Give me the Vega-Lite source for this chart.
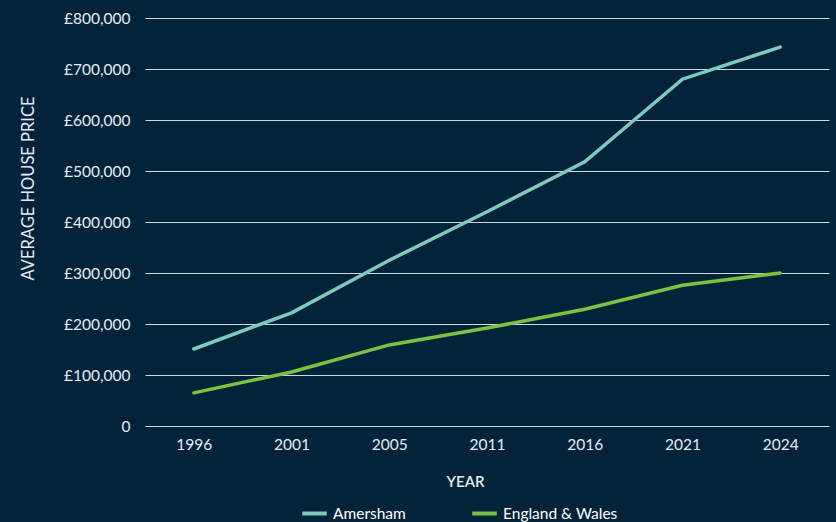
{
  "$schema": "https://vega.github.io/schema/vega-lite/v6.json",
  "width": 684,
  "height": 408,
  "autosize": {"type": "none"},
  "padding": {"left": 145, "top": 18, "right": 7, "bottom": 96},
  "background": "#03233b",
  "config": {
    "view": {"stroke": null},
    "font": "Lato",
    "axis": {"labelColor": "#e6ecf0", "titleColor": "#e6ecf0", "labelFont": "Lato", "titleFont": "Lato"}
  },
  "data": {
    "values": [
      {"year": "1996", "series": "Amersham", "price": 151000},
      {"year": "2001", "series": "Amersham", "price": 222000},
      {"year": "2005", "series": "Amersham", "price": 325000},
      {"year": "2011", "series": "Amersham", "price": 420000},
      {"year": "2016", "series": "Amersham", "price": 518000},
      {"year": "2021", "series": "Amersham", "price": 680000},
      {"year": "2024", "series": "Amersham", "price": 743000},
      {"year": "1996", "series": "England & Wales", "price": 65000},
      {"year": "2001", "series": "England & Wales", "price": 106000},
      {"year": "2005", "series": "England & Wales", "price": 159000},
      {"year": "2011", "series": "England & Wales", "price": 192000},
      {"year": "2016", "series": "England & Wales", "price": 229000},
      {"year": "2021", "series": "England & Wales", "price": 276000},
      {"year": "2024", "series": "England & Wales", "price": 300000}
    ]
  },
  "mark": {"type": "line", "strokeWidth": 3.5, "strokeCap": "round"},
  "encoding": {
    "x": {
      "field": "year", "type": "ordinal",
      "scale": {"type": "point", "padding": 0.5},
      "axis": {
        "title": "YEAR", "labelAngle": 0, "labelFontSize": 15.5, "labelPadding": 11,
        "domain": false, "ticks": false, "grid": false,
        "titleFontSize": 15, "titleFontWeight": 600, "titleX": 320, "titleY": 48
      }
    },
    "y": {
      "field": "price", "type": "quantitative",
      "scale": {"domain": [0, 800000]},
      "axis": {
        "title": "AVERAGE HOUSE PRICE", "values": [0,100000,200000,300000,400000,500000,600000,700000,800000],
        "labelExpr": "datum.value == 0 ? '0' : '£' + format(datum.value, ',')",
        "labelFontSize": 15.5, "labelPadding": 15,
        "domain": false, "ticks": false,
        "grid": true, "gridColor": "#d0d6dc", "gridWidth": 1.2, "gridOpacity": 1,
        "titleFontSize": 16.5, "titleFontWeight": "normal", "titleX": -117, "titleY": 170,
        "titleBaseline": "middle"
      }
    },
    "color": {
      "field": "series", "type": "nominal",
      "scale": {"domain": ["Amersham", "England & Wales"], "range": ["#7ecabb", "#7cc242"]},
      "legend": {
        "title": null, "orient": "none", "direction": "horizontal",
        "legendX": 155, "legendY": 481,
        "symbolType": "stroke", "symbolStrokeWidth": 4, "symbolSize": 600,
        "labelColor": "#ffffff", "labelFontSize": 15.5, "labelFont": "Lato",
        "columnPadding": 58, "symbolOffset": 0
      }
    }
  }
}
